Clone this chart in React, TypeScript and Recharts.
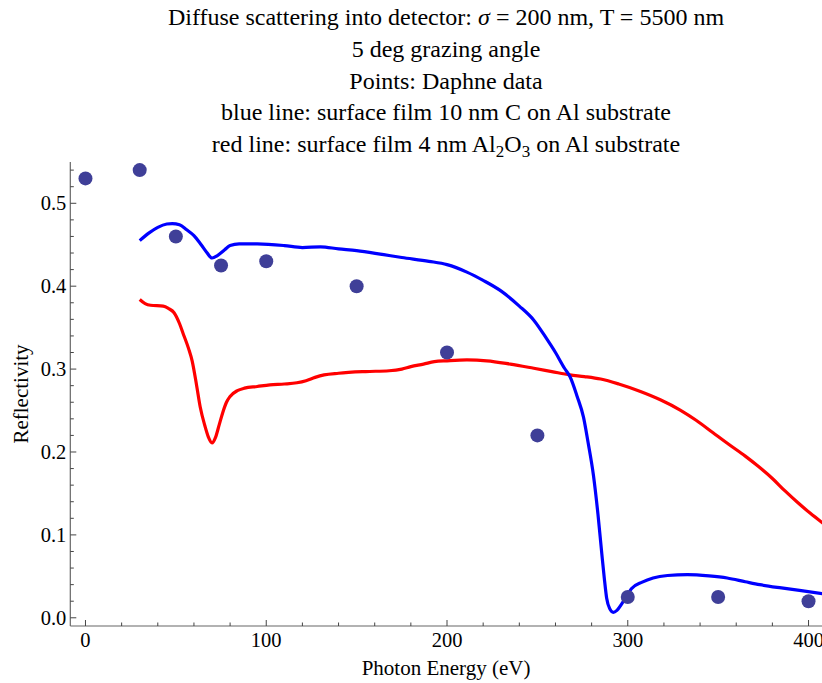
import React from 'react';
import { ComposedChart, Line, Scatter, XAxis, YAxis } from 'recharts';

// Daphne measured points
const daphneEnergy = [0, 30, 50, 75, 100, 150, 200, 250, 300, 350, 400];
const daphneReflectivity = [0.53, 0.54, 0.46, 0.425, 0.43, 0.4, 0.32, 0.22, 0.025, 0.025, 0.02];

// blue: surface film 10 nm C on Al substrate
const carbonEnergy = [30, 35, 40, 45, 48, 52, 56, 60, 64, 67, 70, 73, 77, 80, 85, 95, 110, 120, 130, 140, 150, 165, 175, 190, 200, 211, 220, 230, 240, 248, 255, 260, 265, 268, 272, 275.5, 278, 281, 283.5, 285.6, 287, 288.3, 290, 292, 294, 297, 300, 302, 308, 314, 322, 333, 345, 355, 365, 373, 385, 395, 408];
const carbonReflectivity = [0.455, 0.464, 0.471, 0.475, 0.4755, 0.474, 0.468, 0.461, 0.45, 0.441, 0.434, 0.437, 0.444, 0.449, 0.451, 0.451, 0.449, 0.4466, 0.4474, 0.445, 0.443, 0.438, 0.4346, 0.43, 0.426, 0.417, 0.407, 0.394, 0.376, 0.359, 0.337, 0.32, 0.301, 0.291, 0.267, 0.242, 0.212, 0.172, 0.125, 0.078, 0.048, 0.024, 0.011, 0.0065, 0.009, 0.018, 0.028, 0.035, 0.043, 0.048, 0.051, 0.052, 0.0505, 0.048, 0.0435, 0.04, 0.036, 0.033, 0.029];

// red: surface film 4 nm Al2O3 on Al substrate
const oxideEnergy = [30, 33, 36, 43, 46, 49, 52, 54, 57, 59, 61.5, 63.5, 66, 68, 70, 72, 74, 76, 78, 80, 84, 88, 95, 102, 110, 117, 122, 127, 132, 140, 155, 168, 175, 180, 187, 193, 200, 211, 222, 235, 248, 258, 268, 276, 285, 295, 307, 318, 329, 338, 347, 356, 365, 372, 380, 387, 394, 401, 408];
const oxideReflectivity = [0.384, 0.379, 0.377, 0.376, 0.373, 0.368, 0.355, 0.343, 0.325, 0.31, 0.28, 0.254, 0.232, 0.218, 0.211, 0.218, 0.233, 0.248, 0.26, 0.267, 0.274, 0.277, 0.279, 0.281, 0.282, 0.2835, 0.286, 0.29, 0.293, 0.295, 0.297, 0.298, 0.3, 0.303, 0.306, 0.309, 0.31, 0.311, 0.31, 0.306, 0.301, 0.297, 0.293, 0.291, 0.288, 0.282, 0.273, 0.263, 0.2506, 0.238, 0.2235, 0.209, 0.195, 0.183, 0.168, 0.153, 0.139, 0.126, 0.114];

const xTicks = [0, 20, 40, 60, 80, 100, 120, 140, 160, 180, 200, 220, 240, 260, 280, 300, 320, 340, 360, 380, 400];
const xMajorTicks = [0, 100, 200, 300, 400];
const yTicks = [0, 0.02, 0.04, 0.06, 0.08, 0.1, 0.12, 0.14, 0.16, 0.18, 0.2, 0.22, 0.24, 0.26, 0.28, 0.3, 0.32, 0.34, 0.36, 0.38, 0.4, 0.42, 0.44, 0.46, 0.48, 0.5, 0.52, 0.54];
const yMajorTicks = [0, 0.1, 0.2, 0.3, 0.4, 0.5];

const titleLines = [
  'Diffuse scattering into detector: ',
  '5 deg grazing angle',
  'Points: Daphne data',
  'blue line: surface film 10 nm C on Al substrate',
];

const daphneData = daphneEnergy.map((x, i) => ({ x, y: daphneReflectivity[i] }));
const carbonData = carbonEnergy.map((x, i) => ({ x, y: carbonReflectivity[i] }));
const oxideData = oxideEnergy.map((x, i) => ({ x, y: oxideReflectivity[i] }));

const FONT = '"Liberation Serif", "Times New Roman", serif';
const TICK_COLOR = '#444';
const AXIS_COLOR = '#666';

const isMajor = (v: number, majors: number[]) => majors.some((m) => Math.abs(m - v) < 1e-9);

const BottomTick = (props: any) => {
  const { x, y, payload } = props;
  const major = isMajor(payload.value, xMajorTicks);
  return (
    <g>
      <line x1={x} x2={x} y1={y} y2={y - (major ? 6 : 3.5)} stroke={TICK_COLOR} strokeWidth={1} />
      {major && (
        <text x={x} y={y + 21} textAnchor="middle" fontFamily={FONT} fontSize={20.5} fill="#000">
          {payload.value}
        </text>
      )}
    </g>
  );
};

const TopTick = (props: any) => {
  const { x, y, payload } = props;
  const major = isMajor(payload.value, xMajorTicks);
  return <line x1={x} x2={x} y1={y} y2={y + (major ? 6 : 3.5)} stroke={TICK_COLOR} strokeWidth={1} />;
};

const LeftTick = (props: any) => {
  const { x, y, payload } = props;
  const major = isMajor(payload.value, yMajorTicks);
  return (
    <g>
      <line x1={x} x2={x + (major ? 6 : 3.5)} y1={y} y2={y} stroke={TICK_COLOR} strokeWidth={1} />
      {major && (
        <text x={x - 4} y={y + 7} textAnchor="end" fontFamily={FONT} fontSize={20.5} fill="#000">
          {payload.value.toFixed(1)}
        </text>
      )}
    </g>
  );
};

const RightTick = (props: any) => {
  const { x, y, payload } = props;
  const major = isMajor(payload.value, yMajorTicks);
  return <line x1={x} x2={x - (major ? 6 : 3.5)} y1={y} y2={y} stroke={TICK_COLOR} strokeWidth={1} />;
};

const Dot = (props: any) => {
  const { cx, cy } = props;
  return <circle cx={cx} cy={cy} r={7} fill="#3f3f98" />;
};

const X_DOMAIN: [number, number] = [-8.4, 408];
const Y_DOMAIN: [number, number] = [-0.0099, 0.5498];

export default function App() {
  return (
    <div style={{ position: 'absolute', left: 0, top: 0, width: 822, height: 683, overflow: 'hidden', background: '#fff' }}>
      <ComposedChart
        width={824}
        height={683}
        margin={{ top: 162, right: 1, bottom: 0, left: 0 }}
      >
        <XAxis
          type="number"
          dataKey="x"
          domain={X_DOMAIN}
          allowDataOverflow
          ticks={xTicks}
          interval={0}
          tickSize={0}
          tickMargin={0}
          tick={<BottomTick />}
          axisLine={{ stroke: AXIS_COLOR, strokeWidth: 1.2 }}
          tickLine={false}
          height={57}
        />
        <XAxis
          xAxisId="top"
          orientation="top"
          type="number"
          domain={X_DOMAIN}
          allowDataOverflow
          ticks={xTicks}
          interval={0}
          tickSize={0}
          tickMargin={0}
          tick={<TopTick />}
          axisLine={{ stroke: AXIS_COLOR, strokeWidth: 1.2 }}
          tickLine={false}
          height={0}
        />
        <YAxis
          type="number"
          dataKey="y"
          domain={Y_DOMAIN}
          allowDataOverflow
          ticks={yTicks}
          interval={0}
          tickSize={0}
          tickMargin={0}
          tick={<LeftTick />}
          axisLine={{ stroke: AXIS_COLOR, strokeWidth: 1.2 }}
          tickLine={false}
          width={70.3}
        />
        <YAxis
          yAxisId="right"
          orientation="right"
          type="number"
          domain={Y_DOMAIN}
          allowDataOverflow
          ticks={yTicks}
          interval={0}
          tickSize={0}
          tickMargin={0}
          tick={<RightTick />}
          axisLine={{ stroke: AXIS_COLOR, strokeWidth: 1.2 }}
          tickLine={false}
          width={0}
        />
        <Scatter data={daphneData} dataKey="y" shape={<Dot />} isAnimationActive={false} />
        <Line data={oxideData} dataKey="y" type="monotone" stroke="#ff0000" strokeWidth={3.2} dot={false} activeDot={false} isAnimationActive={false} />
        <Line data={carbonData} dataKey="y" type="monotone" stroke="#0000ff" strokeWidth={3.2} dot={false} activeDot={false} isAnimationActive={false} />
      </ComposedChart>
      <svg width={822} height={683} style={{ position: 'absolute', left: 0, top: 0, pointerEvents: 'none' }}>
        <g fontFamily={FONT} fontSize={24} fill="#000" textAnchor="middle">
          <text x={446} y={25}>
            {titleLines[0]}
            <tspan fontStyle="italic">σ</tspan>
            {' = 200 nm, T = 5500 nm'}
          </text>
          <text x={446} y={57}>{titleLines[1]}</text>
          <text x={446} y={89}>{titleLines[2]}</text>
          <text x={446} y={120}>{titleLines[3]}</text>
          <text x={446} y={152}>
            {'red line: surface film 4 nm Al'}
            <tspan dy={5} fontSize={17}>2</tspan>
            <tspan dy={-5}>O</tspan>
            <tspan dy={5} fontSize={17}>3</tspan>
            <tspan dy={-5}>{' on Al substrate'}</tspan>
          </text>
        </g>
        <text x={446} y={675} textAnchor="middle" fontFamily={FONT} fontSize={21} fill="#000">Photon Energy (eV)</text>
        <text x={28} y={394} transform="rotate(-90 28 394)" textAnchor="middle" fontFamily={FONT} fontSize={21} fill="#000">Reflectivity</text>
      </svg>
    </div>
  );
}
